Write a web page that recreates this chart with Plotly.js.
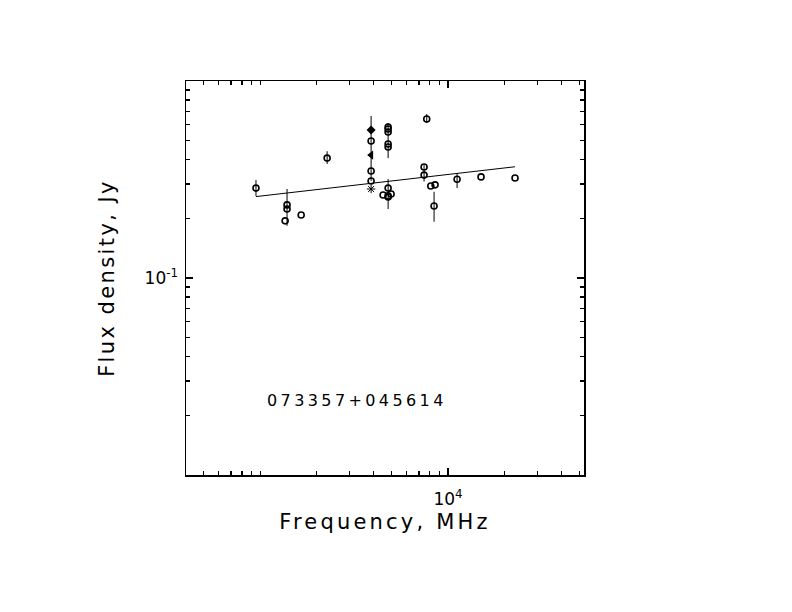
<!DOCTYPE html>
<html>
<head>
<meta charset="utf-8">
<script src="https://cdn.plot.ly/plotly-3.0.1.min.js"></script>
<style>
  body { margin: 0; background: #fff; }
  /* the original uses a wide stroke font, widen the text a bit */
  text.xtitle { letter-spacing: 3.2px; }
  text.ytitle { letter-spacing: 2.4px; }
  text.annotation-text { letter-spacing: 3.4px; }
</style>
</head>
<body>
<div id="myChart" style="width:792px;height:612px;"></div>
<script>
// open circles: frequency (MHz), flux (Jy), error up / down
var circ_freq = [950, 1390, 1390, 1358, 1653, 2272, 3894, 3894, 3894,
                 4797, 4797, 4797, 4797, 4797, 4797, 4511, 4797, 4976, 4797,
                 7700, 7453, 7453, 8091, 8528, 8424, 11170, 14980, 22720];
var circ_flux = [0.286, 0.235, 0.224, 0.195, 0.209, 0.406, 0.496, 0.349, 0.311,
                 0.584, 0.571, 0.551, 0.479, 0.462, 0.286, 0.264, 0.261, 0.267, 0.258,
                 0.641, 0.366, 0.333, 0.293, 0.297, 0.232, 0.317, 0.326, 0.322];
var circ_err_up = [0.028, 0, 0.059, 0, 0, 0.034, 0, 0, 0,
                   0, 0, 0, 0.133, 0, 0, 0, 0.057, 0, 0,
                   0.039, 0, 0.041, 0, 0, 0.042, 0.024, 0, 0];
var circ_err_dn = [0.025, 0, 0.040, 0, 0, 0.027, 0, 0, 0,
                   0, 0, 0, 0.073, 0, 0, 0, 0.037, 0, 0,
                   0.029, 0, 0.024, 0, 0, 0.039, 0.031, 0, 0];

// other symbols
var diam_freq = [3894], diam_flux = [0.564], diam_err_up = [0.100], diam_err_dn = [0.068];
var tri_freq = [3894], tri_flux = [0.421], tri_err_up = [0.075], tri_err_dn = [0.110];
var star_freq = [3894], star_flux = [0.283];

// fitted power law, end points
var fit_freq = [950, 22700];
var fit_flux = [0.259, 0.367];

var source_name = '073357+045614';

// ticks
var x_major = [10000], x_major_text = ['10<sup>4</sup>'];
var y_major = [0.1], y_major_text = ['10<sup>-1</sup>'];
var x_minor = [], y_minor = [];
[100, 1000, 10000].forEach(function(d){
    for (var k = 1; k < 10; k++) if (k * d != 10000) x_minor.push(k * d);
});
[0.01, 0.1].forEach(function(d){
    for (var k = 2; k < 10; k++) y_minor.push(k * d);
});

var fnt = 'DejaVu Sans, Liberation Sans, sans-serif';

function errs(up, dn){
    return {type: 'data', symmetric: false, array: up, arrayminus: dn,
            color: 'black', thickness: 1, width: 0};
}

var fit = {
    x: fit_freq, y: fit_flux, mode: 'lines', type: 'scatter',
    line: {color: 'black', width: 1}
};
var circles = {
    x: circ_freq, y: circ_flux, mode: 'markers', type: 'scatter',
    marker: {symbol: 'circle-open', size: 6, color: 'black', line: {width: 1.6}},
    error_y: errs(circ_err_up, circ_err_dn)
};
var diamonds = {
    x: diam_freq, y: diam_flux, mode: 'markers', type: 'scatter',
    marker: {symbol: 'diamond', size: 7, color: 'black'},
    error_y: errs(diam_err_up, diam_err_dn)
};
var triangles = {
    x: tri_freq, y: tri_flux, mode: 'markers', type: 'scatter',
    marker: {symbol: 'triangle-left', size: 8, color: 'black'},
    error_y: errs(tri_err_up, tri_err_dn)
};
var stars = {
    x: star_freq, y: star_flux, mode: 'markers', type: 'scatter',
    marker: {symbol: 'asterisk-open', size: 7, color: 'black', line: {width: 1, color: 'black'}}
};

function axis(extra){
    var a = {
        type: 'log', showgrid: false, zeroline: false,
        showline: true, linecolor: 'black', linewidth: 1.5, mirror: 'allticks',
        ticks: 'inside', ticklen: 7, tickwidth: 1.2, tickcolor: 'black',
        tickmode: 'array',
        tickfont: {family: fnt, size: 17, color: 'black'},
        minor: {ticks: 'inside', ticklen: 4, tickwidth: 1.2, tickcolor: 'black', showgrid: false}
    };
    for (var k in extra) a[k] = extra[k];
    return a;
}

var layout = {
    width: 792, height: 612,
    margin: {l: 186, r: 208, t: 81, b: 137},
    paper_bgcolor: 'white', plot_bgcolor: 'white',
    showlegend: false,
    xaxis: axis({
        range: [Math.log10(403), Math.log10(52900)],
        tickvals: x_major, ticktext: x_major_text,
        ticklabelstandoff: 8,
        title: {text: 'Frequency, MHz', font: {family: fnt, size: 21, color: 'black'}, standoff: 6}
    }),
    yaxis: axis({
        range: [-2, 0],
        tickvals: y_major, ticktext: y_major_text,
        ticklabelstandoff: 3,
        title: {text: 'Flux density, Jy', font: {family: fnt, size: 21, color: 'black'}, standoff: 24}
    }),
    annotations: [{
        text: source_name, xref: 'paper', yref: 'paper',
        x: 0.1985, y: 0.188, xanchor: 'left', yanchor: 'middle',
        showarrow: false, font: {family: fnt, size: 16, color: 'black'}
    }]
};
layout.xaxis.minor.tickvals = x_minor;
layout.yaxis.minor.tickvals = y_minor;

Plotly.newPlot('myChart', [fit, circles, diamonds, triangles, stars], layout,
               {staticPlot: true, displayModeBar: false});
</script>
</body>
</html>
